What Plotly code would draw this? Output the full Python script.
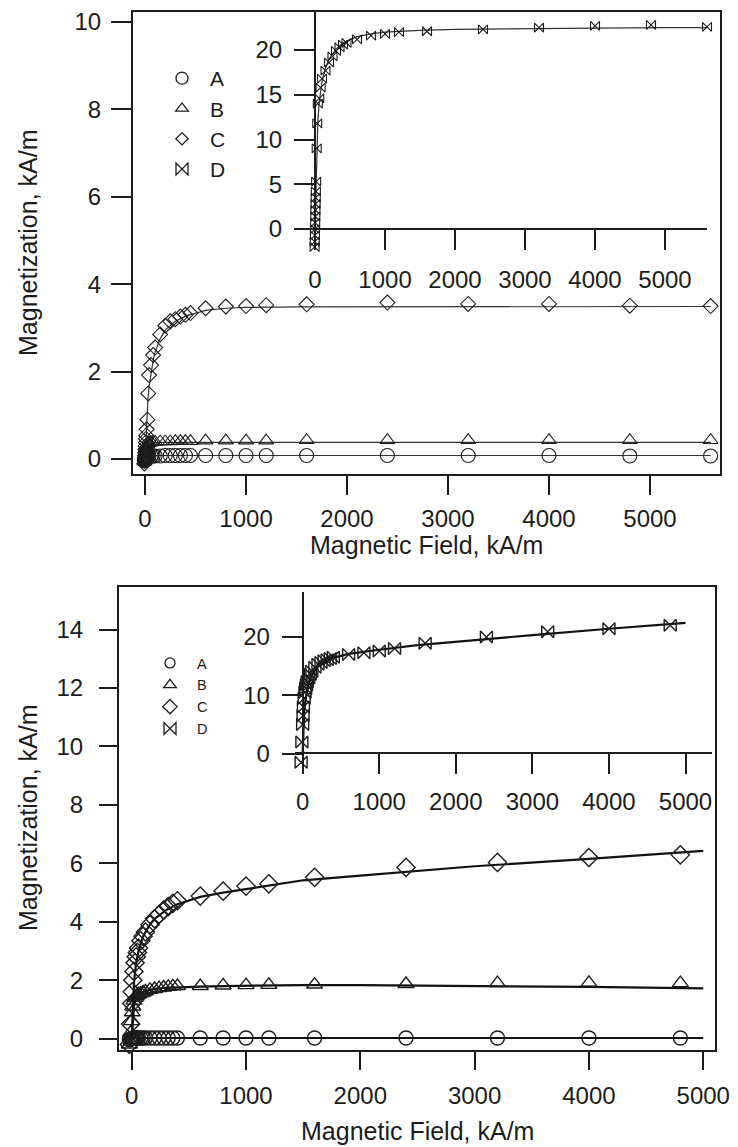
import plotly.graph_objects as go

W, H = 738, 1147

# ---------------- data ----------------
# top panel: measured field points (kA/m)
H_top = [-6, -4, -2, 0, 2, 4, 6, 8, 10, 12, 16, 24, 32, 40, 60, 80, 100, 150, 200, 250,
         300, 350, 400, 450, 600, 800, 1000, 1200, 1600, 2400, 3200, 4000, 4800, 5600]
A_top = [-0.04, -0.03, -0.02, 0.0, 0.02, 0.03, 0.04, 0.05, 0.05, 0.06, 0.06, 0.07, 0.07, 0.07,
         0.07, 0.07, 0.07, 0.07, 0.08, 0.08, 0.08, 0.08, 0.08, 0.08, 0.08, 0.08, 0.08, 0.08,
         0.08, 0.08, 0.08, 0.08, 0.07, 0.07]
B_top = [-0.06, -0.03, 0.0, 0.04, 0.08, 0.12, 0.16, 0.2, 0.23, 0.26, 0.3, 0.34, 0.36, 0.37,
         0.38, 0.39, 0.39, 0.4, 0.4, 0.4, 0.41, 0.41, 0.41, 0.41, 0.42, 0.42, 0.42, 0.42,
         0.43, 0.43, 0.43, 0.43, 0.43, 0.43]
C_top = [-0.1, -0.04, 0.02, 0.08, 0.15, 0.22, 0.3, 0.38, 0.46, 0.54, 0.68, 0.9, 1.5, 1.92,
         2.15, 2.38, 2.55, 2.85, 3.05, 3.15, 3.2, 3.26, 3.3, 3.34, 3.45, 3.49, 3.5, 3.52,
         3.54, 3.58, 3.55, 3.55, 3.51, 3.5]
D_top = [-2.0, -1.4, -0.7, 0.0, 0.7, 1.4, 2.1, 2.8, 3.5, 4.2, 5.3, 9.0, 11.8, 14.0, 14.6,
         15.8, 16.8, 17.7, 18.6, 19.3, 19.9, 20.3, 20.6, 20.8, 21.2, 21.6, 21.8, 22.0,
         22.1, 22.3, 22.5, 22.7, 22.8, 22.6]

# top panel: fitted curves
Hfit_top = [0, 10, 20, 30, 40, 60, 80, 100, 150, 200, 300, 400, 600, 800, 1000, 1500,
            2000, 3000, 4000, 5000, 5600]
Afit_top = [0.0, 0.04, 0.06, 0.07, 0.075, 0.08, 0.08, 0.08, 0.08, 0.08, 0.08, 0.08, 0.08,
            0.08, 0.08, 0.08, 0.08, 0.08, 0.08, 0.08, 0.08]
Bfit_top = [0.0, 0.2, 0.3, 0.33, 0.35, 0.36, 0.37, 0.37, 0.38, 0.38, 0.38, 0.38, 0.38,
            0.38, 0.38, 0.38, 0.38, 0.38, 0.38, 0.38, 0.38]
Cfit_top = [0.0, 0.6, 1.05, 1.4, 1.65, 2.0, 2.25, 2.45, 2.75, 2.95, 3.15, 3.27, 3.4, 3.45,
            3.47, 3.48, 3.48, 3.49, 3.49, 3.49, 3.49]
Dfit_top = [0.0, 4.0, 7.5, 10.0, 12.0, 14.2, 15.5, 16.5, 18.0, 19.0, 20.1, 20.8, 21.5,
            21.8, 22.0, 22.2, 22.3, 22.4, 22.45, 22.5, 22.5]

# bottom panel: measured field points (kA/m)
H_bot = [-20, -10, 0, 5, 10, 20, 30, 40, 50, 60, 80, 100, 120, 160, 200, 240, 280, 320,
         360, 400, 600, 800, 1000, 1200, 1600, 2400, 3200, 4000, 4800]
A_bot = [-0.04, -0.02, 0.0, 0.01, 0.01, 0.02, 0.02, 0.02, 0.02, 0.02, 0.02, 0.02, 0.02,
         0.02, 0.02, 0.02, 0.02, 0.02, 0.02, 0.02, 0.02, 0.02, 0.02, 0.02, 0.02, 0.02,
         0.02, 0.02, 0.02]
B_bot = [-0.2, 0.2, 0.6, 0.9, 1.1, 1.3, 1.4, 1.45, 1.5, 1.52, 1.55, 1.58, 1.62, 1.67,
         1.7, 1.73, 1.75, 1.77, 1.79, 1.8, 1.8, 1.82, 1.83, 1.84, 1.85, 1.87, 1.9, 1.91, 1.9]
C_bot = [-0.2, 0.5, 1.2, 1.6, 2.0, 2.3, 2.6, 2.8, 2.95, 3.1, 3.35, 3.5, 3.65, 3.9, 4.1,
         4.25, 4.4, 4.52, 4.63, 4.72, 4.88, 5.05, 5.22, 5.3, 5.52, 5.86, 6.03, 6.2, 6.29]
D_bot = [-1.5, 2.0, 5.0, 6.5, 8.0, 9.5, 10.5, 11.2, 11.8, 12.3, 13.0, 13.6, 14.1, 14.8,
         15.3, 15.6, 15.9, 16.1, 16.3, 16.5, 17.0, 17.3, 17.6, 18.0, 18.9, 20.0, 20.9,
         21.4, 22.0]

# bottom panel: fitted curves
Hfit_bot = [0, 10, 20, 30, 40, 60, 80, 100, 150, 200, 300, 400, 600, 800, 1000, 1500,
            2000, 3000, 4000, 5000]
Afit_bot = [0.0, 0.01, 0.02, 0.02, 0.02, 0.02, 0.02, 0.02, 0.02, 0.02, 0.02, 0.02, 0.02,
            0.02, 0.02, 0.02, 0.02, 0.02, 0.02, 0.02]
Bfit_bot = [0.0, 0.7, 1.1, 1.3, 1.4, 1.5, 1.55, 1.6, 1.66, 1.7, 1.74, 1.76, 1.78, 1.8,
            1.81, 1.83, 1.83, 1.81, 1.77, 1.72]
Cfit_bot = [0.0, 1.2, 1.9, 2.3, 2.6, 3.0, 3.3, 3.5, 3.85, 4.1, 4.4, 4.6, 4.85, 5.0, 5.12,
            5.42, 5.58, 5.9, 6.15, 6.43]
Dfit_bot = [0.0, 4.5, 7.0, 8.5, 9.6, 11.0, 12.0, 12.8, 14.1, 14.9, 15.8, 16.4, 17.1, 17.5,
            17.8, 18.6, 19.2, 20.3, 21.4, 22.4]

series_names = ["A", "B", "C", "D"]
symbols = ["circle-open", "triangle-up-open", "diamond-open", "bowtie-open"]

# ---------------- helpers for pixel layout ----------------
def px(x):
    return x / W

def py(y):
    return 1 - y / H

FONT = "Liberation Sans, Arial, Helvetica, sans-serif"
INK = "#1c1c1c"
TICKFONT = dict(family=FONT, size=24, color=INK)

fig = go.Figure()

# ---------------- top panel ----------------
top_vals = [A_top, B_top, C_top]
top_fits = [Afit_top, Bfit_top, Cfit_top]
top_sizes = [14, 13, 11.5]
for name, sym, vals, fit, sz in zip(series_names[:3], symbols[:3], top_vals, top_fits, top_sizes):
    fig.add_trace(go.Scatter(x=Hfit_top, y=fit, mode="lines", xaxis="x", yaxis="y",
                             line=dict(color="#333333", width=1.2), showlegend=False,
                             hoverinfo="skip", cliponaxis=False))
    fig.add_trace(go.Scatter(x=H_top, y=vals, mode="markers", xaxis="x", yaxis="y",
                             marker=dict(symbol=sym, size=sz, color=INK,
                                         line=dict(width=1.1, color=INK)),
                             showlegend=False, name=name, cliponaxis=False))
fig.add_trace(go.Scatter(x=Hfit_top, y=Dfit_top, mode="lines", xaxis="x2", yaxis="y2",
                         line=dict(color="#333333", width=1.2), showlegend=False,
                         hoverinfo="skip", cliponaxis=False))
fig.add_trace(go.Scatter(x=H_top, y=D_top, mode="markers", xaxis="x2", yaxis="y2",
                         marker=dict(symbol="bowtie-open", size=9, color=INK,
                                     line=dict(width=1.1, color=INK)),
                         showlegend=False, name="D", cliponaxis=False))

# ---------------- bottom panel ----------------
bot_vals = [A_bot, B_bot, C_bot]
bot_fits = [Afit_bot, Bfit_bot, Cfit_bot]
bot_sizes = [14, 14, 14]
for name, sym, vals, fit, sz in zip(series_names[:3], symbols[:3], bot_vals, bot_fits, bot_sizes):
    fig.add_trace(go.Scatter(x=Hfit_bot, y=fit, mode="lines", xaxis="x3", yaxis="y3",
                             line=dict(color="#111111", width=2.2), showlegend=False,
                             hoverinfo="skip", cliponaxis=False))
    fig.add_trace(go.Scatter(x=H_bot, y=vals, mode="markers", xaxis="x3", yaxis="y3",
                             marker=dict(symbol=sym, size=sz, color=INK,
                                         line=dict(width=1.4, color=INK)),
                             showlegend=False, name=name, cliponaxis=False))
fig.add_trace(go.Scatter(x=Hfit_bot, y=Dfit_bot, mode="lines", xaxis="x4", yaxis="y4",
                         line=dict(color="#111111", width=2.2), showlegend=False,
                         hoverinfo="skip", cliponaxis=False))
fig.add_trace(go.Scatter(x=H_bot, y=D_bot, mode="markers", xaxis="x4", yaxis="y4",
                         marker=dict(symbol="bowtie-open", size=12, color=INK,
                                     line=dict(width=1.4, color=INK)),
                         showlegend=False, name="D", cliponaxis=False))

# ---------------- legend entries (no data, legend only) ----------------
leg_top_sizes = [12, 11, 9.5, 12]
leg_bot_sizes = [10, 11, 11, 12]
for name, sym, sz in zip(series_names, symbols, leg_top_sizes):
    fig.add_trace(go.Scatter(x=[None], y=[None], mode="markers", name=name,
                             xaxis="x", yaxis="y", legend="legend",
                             marker=dict(symbol=sym, size=sz, color=INK,
                                         line=dict(width=1.3, color=INK))))
for name, sym, sz in zip(series_names, symbols, leg_bot_sizes):
    fig.add_trace(go.Scatter(x=[None], y=[None], mode="markers", name=name,
                             xaxis="x3", yaxis="y3", legend="legend2",
                             marker=dict(symbol=sym, size=sz, color=INK,
                                         line=dict(width=1.3, color=INK))))

# ---------------- axes ----------------
def main_axis(domain, rng, dtick, ticklen, standoff, anchor):
    return dict(domain=domain, range=rng, dtick=dtick, tick0=0, ticks="outside",
                ticklen=ticklen, tickwidth=2, tickcolor=INK, showline=True, linewidth=2,
                linecolor=INK, mirror=True, showgrid=False, zeroline=False,
                tickfont=TICKFONT, anchor=anchor, ticklabelstandoff=standoff)

def inset_axis(domain, rng, dtick, position, standoff):
    return dict(domain=domain, range=rng, dtick=dtick, tick0=0, ticks="outside",
                ticklen=20, tickwidth=2, tickcolor=INK, showline=True, linewidth=2,
                linecolor=INK, mirror=False, showgrid=False, zeroline=False,
                tickfont=TICKFONT, anchor="free", position=position,
                ticklabelstandoff=standoff)

fig.update_layout(
    xaxis=main_axis([px(133), px(720)], [-119, 5693], 1000, 19, 3, "y"),
    yaxis=main_axis([py(474), py(12)], [-0.343, 10.23], 2, 20, 5, "x"),
    xaxis2=inset_axis([px(295), px(707)], [-286, 5600], 1000, py(229), 9),
    yaxis2=inset_axis([py(248), py(12)], [-2.12, 24.25], 5, px(315), 7),
    xaxis3=main_axis([px(119), px(715)], [-111, 5103], 1000, 18, 5, "y3"),
    yaxis3=main_axis([py(1050), py(587)], [-0.39, 15.46], 2, 18, 11, "x3"),
    xaxis4=inset_axis([px(295), px(712)], [-100, 5346], 1000, py(753.3), 7),
    yaxis4=inset_axis([py(773), py(592)], [-3.33, 27.7], 10, px(302.7), 7),
)

fig.update_layout(
    width=W, height=H, margin=dict(l=0, r=0, t=0, b=0, autoexpand=False),
    paper_bgcolor="white", plot_bgcolor="rgba(0,0,0,0)",
    font=dict(family=FONT, color=INK),
    legend=dict(x=px(154), y=py(58), xanchor="left", yanchor="top",
                bgcolor="rgba(0,0,0,0)", font=dict(family=FONT, size=21, color=INK),
                itemwidth=46),
    legend2=dict(x=px(143), y=py(647), xanchor="left", yanchor="top",
                 bgcolor="rgba(0,0,0,0)", font=dict(family=FONT, size=14.5, color=INK),
                 itemwidth=44),
    showlegend=True,
)

# axis titles
title_font = dict(family=FONT, size=25, color=INK)
annots = [
    dict(text="Magnetic Field, kA/m", x=px(426.5), y=py(545), xanchor="center", yanchor="middle"),
    dict(text="Magnetic Field, kA/m", x=px(417), y=py(1131), xanchor="center", yanchor="middle"),
    dict(text="Magnetization, kA/m", x=px(28), y=py(243), xanchor="center", yanchor="middle", textangle=-90),
    dict(text="Magnetization, kA/m", x=px(28), y=py(818), xanchor="center", yanchor="middle", textangle=-90),
]
for a in annots:
    fig.add_annotation(xref="paper", yref="paper", showarrow=False, font=title_font, **a)

fig.write_html("out.html")
